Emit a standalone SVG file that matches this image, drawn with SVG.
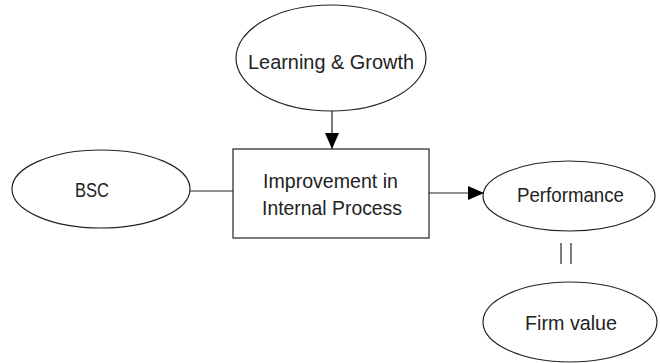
<svg xmlns="http://www.w3.org/2000/svg" width="660" height="363" viewBox="0 0 660 363">
  <defs>
    <marker id="arrow" viewBox="0 0 16 14" refX="16" refY="7" markerWidth="16" markerHeight="14" markerUnits="userSpaceOnUse" orient="auto">
      <path d="M0,0 L16,7 L0,14 Z" fill="#000"/>
    </marker>
  </defs>
  <style>
    .shape { fill: #fff; stroke: #222; stroke-width: 1.2; }
    .edge { fill: none; stroke: #222; stroke-width: 1.2; }
    text { font-family: "Liberation Sans", Arial, sans-serif; font-size: 20.5px; fill: #222; }
  </style>
  <rect width="660" height="363" fill="#fff"/>

  <g id="connectors">
    <line class="edge" x1="332" y1="111" x2="332" y2="149" marker-end="url(#arrow)"/>
    <line class="edge" x1="190" y1="191" x2="233" y2="191"/>
    <line class="edge" x1="429" y1="193" x2="484" y2="193" marker-end="url(#arrow)"/>
    <line class="edge" x1="561" y1="243" x2="561" y2="264"/>
    <line class="edge" x1="571" y1="243" x2="571" y2="264"/>
  </g>

  <g id="learning-growth">
    <ellipse class="shape" cx="331" cy="58" rx="95" ry="53"/>
    <text x="248" y="69" textLength="166" lengthAdjust="spacingAndGlyphs">Learning &amp; Growth</text>
  </g>

  <g id="bsc">
    <ellipse class="shape" cx="101" cy="189" rx="89" ry="39"/>
    <text x="75" y="197" textLength="34" lengthAdjust="spacingAndGlyphs">BSC</text>
  </g>

  <g id="internal-process">
    <rect class="shape" x="233" y="149" width="196" height="89"/>
    <text x="263" y="188" textLength="135" lengthAdjust="spacingAndGlyphs">Improvement in</text>
    <text x="262" y="215" textLength="140" lengthAdjust="spacingAndGlyphs">Internal Process</text>
  </g>

  <g id="performance">
    <ellipse class="shape" cx="569" cy="196" rx="86" ry="35"/>
    <text x="517" y="202" textLength="107" lengthAdjust="spacingAndGlyphs">Performance</text>
  </g>

  <g id="firm-value">
    <ellipse class="shape" cx="570" cy="322" rx="87" ry="40"/>
    <text x="525" y="330" textLength="92" lengthAdjust="spacingAndGlyphs">Firm value</text>
  </g>
</svg>
